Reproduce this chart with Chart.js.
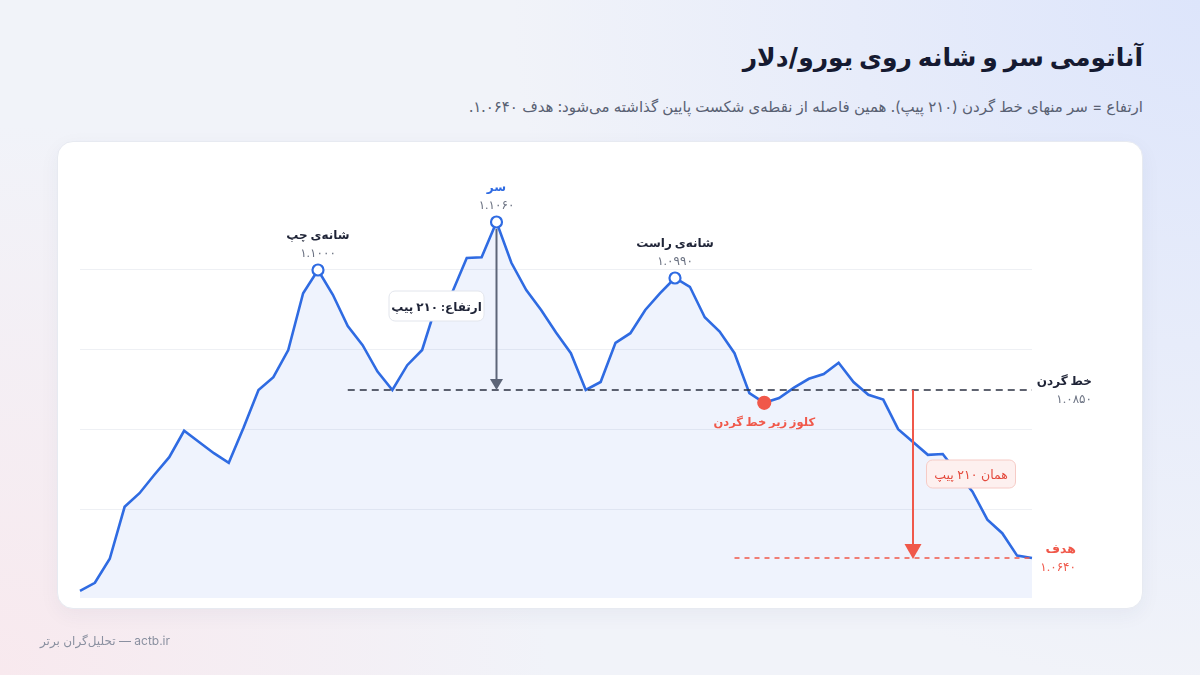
<!DOCTYPE html>
<html lang="fa">
<head>
<meta charset="utf-8">
<script src="https://cdn.jsdelivr.net/npm/chart.js@4.4.1/dist/chart.umd.min.js"></script>
<style>
  html, body { margin: 0; padding: 0; }
  body {
    width: 1200px; height: 675px; position: relative; overflow: hidden;
    font-family: Inter, 'DejaVu Sans', sans-serif;
    background:
      radial-gradient(circle at 100% 0%, #dde5fb 0%, rgba(221,229,251,0) 50%),
      radial-gradient(circle at 0% 100%, #f8e9ee 0%, rgba(248,233,238,0) 40%),
      #f1f3f9;
  }
  .title { position: absolute; right: 57px; top: 42px; font-size: 25px; font-weight: 700; color: #151a31; direction: rtl; }
  .sub { position: absolute; right: 57px; top: 97px; font-size: 15px; color: #596173; direction: rtl; }
  .card { position: absolute; left: 57px; top: 141px; width: 1086px; height: 468px; background: #fff;
    border-radius: 16px; border: 1px solid #e7eaf1; box-sizing: border-box; box-shadow: 0 6px 20px rgba(40,50,90,0.05); }
  canvas { position: absolute; left: 0; top: 0; }
  .foot { position: absolute; left: 40px; top: 633px; font-size: 12px; color: #8a90a0; direction: rtl; }
</style>
</head>
<body>
<div class="title">آناتومی سر و شانه روی یورو/دلار</div>
<div class="sub">ارتفاع = سر منهای خط گردن (۲۱۰ پیپ). همین فاصله از نقطه‌ی شکست پایین گذاشته می‌شود: هدف ۱.۰۶۴۰.</div>
<div class="card"></div>
<canvas id="chart" width="1200" height="675"></canvas>
<div class="foot">actb.ir — تحلیل‌گران برتر</div>

<script>
// EUR/USD closes, one per bar
var prices = [
  1.0599, 1.0609, 1.0639, 1.0704, 1.0721, 1.0744, 1.0766, 1.0799, 1.0785, 1.0771,
  1.0759, 1.0803, 1.0850, 1.0866, 1.0900, 1.0971, 1.1000, 1.0969, 1.0930, 1.0906,
  1.0873, 1.0850, 1.0881, 1.0900, 1.0959, 1.0971, 1.1015, 1.1016, 1.1060, 1.1009,
  1.0975, 1.0950, 1.0922, 1.0896, 1.0850, 1.0860, 1.0909, 1.0921, 1.0950, 1.0971,
  1.0990, 1.0979, 1.0941, 1.0923, 1.0896, 1.0846, 1.0834, 1.0840, 1.0853, 1.0864,
  1.0870, 1.0884, 1.0860, 1.0844, 1.0838, 1.0801, 1.0785, 1.0769, 1.0770, 1.0746,
  1.0723, 1.0688, 1.0671, 1.0643, 1.0640
];
var bars = prices.map(function(p, i) { return i + 1; });

var gridValues = [1.07, 1.08, 1.09, 1.10];
var yMin = 1.059, yMax = 1.11;

var neckline = 1.0850;
var target = 1.0640;
var pips = '۲۱۰';

// pattern points (bar index) and their labels
var peaks = [
  {i: 16, name: 'شانه‌ی چپ', color: '#1f2437'},
  {i: 28, name: 'سر', color: '#2f6be2'},
  {i: 40, name: 'شانه‌ی راست', color: '#1f2437'}
];
var headIdx = 28;
var neckStartIdx = 18;
var closeIdx = 46;
var targetStartIdx = 44;
var measureIdx = 56;

var FONT = "Inter, 'DejaVu Sans', sans-serif";
var BLUE = '#2f6be2';
var RED = '#f0584a';

function fa(v) {
  return v.toFixed(4).replace(/[0-9]/g, function(d) { return '۰۱۲۳۴۵۶۷۸۹'[d]; });
}

function isPeak(i) {
  return peaks.some(function(p) { return p.i === i; });
}

function text(ctx, s, x, y, size, weight, color, align) {
  ctx.font = weight + ' ' + size + 'px ' + FONT;
  ctx.fillStyle = color;
  ctx.textAlign = align || 'center';
  ctx.textBaseline = 'middle';
  ctx.fillText(s, x, y);
}

function arrowDown(ctx, x, y1, y2, color, w, headW, headH) {
  ctx.strokeStyle = color;
  ctx.lineWidth = w;
  ctx.setLineDash([]);
  ctx.beginPath();
  ctx.moveTo(x, y1);
  ctx.lineTo(x, y2 - headH + 1);
  ctx.stroke();
  ctx.fillStyle = color;
  ctx.beginPath();
  ctx.moveTo(x - headW / 2, y2 - headH);
  ctx.lineTo(x + headW / 2, y2 - headH);
  ctx.lineTo(x, y2);
  ctx.closePath();
  ctx.fill();
}

function box(ctx, cx, cy, w, h, fill, stroke) {
  ctx.beginPath();
  ctx.roundRect(cx - w / 2, cy - h / 2, w, h, 6);
  ctx.fillStyle = fill;
  ctx.fill();
  ctx.lineWidth = 1;
  ctx.strokeStyle = stroke;
  ctx.stroke();
}

var annotations = {
  id: 'hsAnnotations',
  afterDatasetsDraw: function(chart) {
    var ctx = chart.ctx;
    var x = chart.scales.x, y = chart.scales.y;
    var right = chart.chartArea.right;
    var neckY = y.getPixelForValue(neckline);
    var targetY = y.getPixelForValue(target);
    ctx.save();
    ctx.direction = 'rtl';

    // neckline
    ctx.strokeStyle = '#2b3042';
    ctx.lineWidth = 1.6;
    ctx.setLineDash([7, 5]);
    ctx.beginPath();
    ctx.moveTo(x.getPixelForValue(neckStartIdx), neckY);
    ctx.lineTo(right, neckY);
    ctx.stroke();

    // target line
    ctx.strokeStyle = RED;
    ctx.lineWidth = 1.5;
    ctx.setLineDash([5, 5]);
    ctx.beginPath();
    ctx.moveTo(x.getPixelForValue(targetStartIdx), targetY);
    ctx.lineTo(right, targetY);
    ctx.stroke();
    ctx.setLineDash([]);

    // height arrow from head to neckline
    var hx = x.getPixelForValue(headIdx);
    var hy = y.getPixelForValue(prices[headIdx]);
    arrowDown(ctx, hx, hy + 7, neckY, '#5d6578', 2, 13, 11);
    box(ctx, hx - 60, (hy + neckY) / 2, 95, 30, '#ffffff', '#e2e5ec');
    text(ctx, 'ارتفاع: ' + pips + ' پیپ', hx - 60, (hy + neckY) / 2 + 1, 12, 'bold', '#1f2437');

    // measured move below the break
    var mx = x.getPixelForValue(measureIdx);
    arrowDown(ctx, mx, neckY, targetY + 1, RED, 2, 17, 15);
    box(ctx, mx + 58, (neckY + targetY) / 2, 89, 28, '#fdf0ef', '#f6cbc6');
    text(ctx, 'همان ' + pips + ' پیپ', mx + 58, (neckY + targetY) / 2 + 1, 12.5, 'normal', '#e4493c');

    // peak labels
    peaks.forEach(function(p) {
      var px = x.getPixelForValue(p.i);
      var py = y.getPixelForValue(prices[p.i]);
      text(ctx, p.name, px, py - 35, 12, 'bold', p.color);
      text(ctx, fa(prices[p.i]), px, py - 17, 12, 'normal', '#6b7282');
    });

    // close below neckline
    var cx = x.getPixelForValue(closeIdx);
    var cy = y.getPixelForValue(prices[closeIdx]);
    text(ctx, 'کلوز زیر خط گردن', cx, cy + 20, 11.5, 'bold', RED);

    // right side labels
    text(ctx, 'خط گردن', right + 60, neckY - 9, 12, 'bold', '#1f2437', 'right');
    text(ctx, fa(neckline), right + 60, neckY + 9, 12, 'normal', '#6b7282', 'right');
    text(ctx, 'هدف', right + 44, targetY - 9, 12.5, 'bold', RED, 'right');
    text(ctx, fa(target), right + 44, targetY + 9, 12, 'normal', RED, 'right');

    ctx.restore();
  }
};

var chart = new Chart(document.getElementById('chart').getContext('2d'), {
  type: 'line',
  data: {
    labels: bars,
    datasets: [{
      label: 'EUR/USD',
      data: prices,
      borderColor: BLUE,
      borderWidth: 2.6,
      backgroundColor: 'rgba(47,107,226,0.08)',
      fill: 'start',
      tension: 0,
      pointRadius: function(c) {
        if (c.dataIndex === closeIdx) return 6;
        return isPeak(c.dataIndex) ? 5.5 : 0;
      },
      pointBackgroundColor: function(c) {
        return c.dataIndex === closeIdx ? RED : '#ffffff';
      },
      pointBorderColor: function(c) {
        return c.dataIndex === closeIdx ? RED : BLUE;
      },
      pointBorderWidth: 2.2,
    }],
  },
  options: {
    responsive: false,
    animation: false,
    layout: {padding: {left: 80, right: 168, top: 190, bottom: 77}},
    plugins: {legend: {display: false}, tooltip: {enabled: false}},
    scales: {
      x: {display: false},
      y: {
        min: yMin,
        max: yMax,
        afterBuildTicks: function(scale) {
          scale.ticks = gridValues.map(function(v) { return {value: v}; });
        },
        ticks: {display: false},
        border: {display: false},
        grid: {color: '#eef0f4', lineWidth: 1, drawTicks: false},
      },
    },
  },
  plugins: [annotations],
});
</script>
</body>
</html>
